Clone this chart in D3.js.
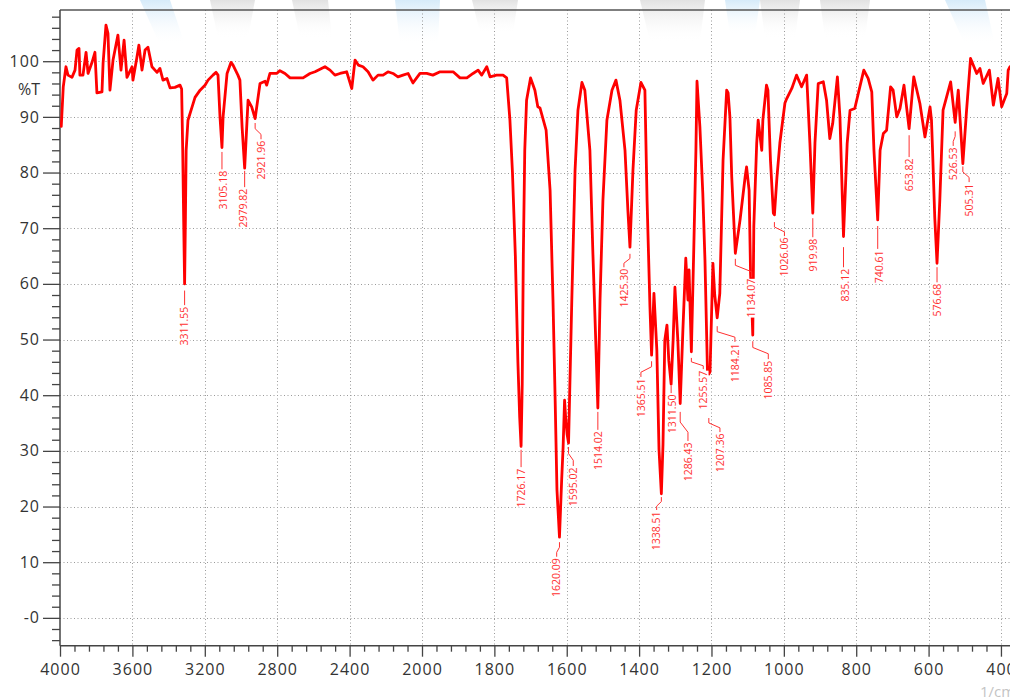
<!DOCTYPE html>
<html>
<head>
<meta charset="utf-8">
<script src="https://cdn.jsdelivr.net/npm/d3@7/dist/d3.min.js"></script>
<style>
  html, body { margin: 0; padding: 0; background: #fff; }
  svg { display: block; }
</style>
</head>
<body>
<svg id="chart" width="1010" height="699"></svg>
<script>
// ---------------- DATA ----------------
const wavenumbers = [
  3993,3982,3967,3956,3934,3917,3906,3895,3890,3873,3856,3845,3823,3807,3796,3768,3762,3746,3735,3724,
  3707,3680,3663,3646,3630,3602,3597,3575,3564,3547,3530,3514,3492,3464,3448,3431,3409,3392,3365,3337,
  3328,3322,3317,3311.55,3307,3303,3293,3271,3254,3226,3199,3182,3155,3138,3127,3116,3105.18,3099,3077,3055,
  3044,3017,3006,2994,2979.82,2961,2941,2921.96,2895,2867,2858,2840,2803,2785,2757,2729,2685,2657,2619,2591,
  2536,2508,2481,2453,2416,2388,2370,2352,2326,2298,2271,2243,2215,2188,2160,2133,2105,2077,2050,2011,
  1987,1970,1950,1914,1895,1876,1859,1845,1835,1821,1812,1794,1776,1766,1757,1750,1742,1735,1730,1726.17,
  1723,1720,1716,1711,1700,1688,1680,1674,1657,1646,1638,1632,1627,1620.09,1614,1610,1606,1603,1599,1595.02,
  1586,1577,1569,1558,1550,1536,1528,1519,1514.02,1508,1500,1489,1475,1464,1453,1439,1431,1425.30,1417,1408,
  1395,1384,1378,1370,1365.51,1359,1351,1345,1338.51,1334,1329,1323,1318,1311.50,1306,1301,1293,1286.43,1279,1271,
  1265,1262,1255.57,1249,1243,1240,1232,1224,1218,1211,1207.36,1204,1196,1191,1184.21,1177,1168,1158,1154,1149,
  1144,1134.07,1121,1107,1103,1096,1092,1088,1085.85,1083,1075,1071,1061,1058,1048,1044,1037,1029,1026.06,1019,
  1011,997,992,978,965,951,937,928,919.98,914,905,891,882,873,865,852,845,835.12,825,817,
  804,790,779,767,757,751,740.61,734,725,716,705,698,688,679,668,653.82,641,624,610,596,
  592,589,583,576.68,569,560,539,526.53,518,505.31,495,484,467,458,449,432,421,408,398,384,
  380,375
];
const transmittance = [
  88.3,95.4,99.0,97.5,97.1,98.4,102.0,102.3,97.5,97.5,101.6,97.8,99.8,101.6,94.3,94.5,99.6,106.5,105.0,94.8,
  100.2,104.7,98.4,103.8,97.1,99.0,96.6,100.7,102.9,98.4,102.0,102.5,99.0,98.0,98.7,96.6,96.9,95.2,95.3,95.7,
  95.0,84.0,72.0,60.0,72.0,84.0,89.4,91.7,93.5,94.8,95.7,96.6,97.5,98.0,97.5,90.0,84.5,90.0,97.8,99.8,
  99.3,97.5,96.6,88.2,80.8,93.0,91.8,89.7,96.0,96.4,95.7,97.8,97.8,98.3,97.8,97.0,97.0,97.0,97.8,98.1,
  99.0,98.4,97.5,97.8,98.1,95.1,100.2,99.3,99.0,98.1,96.6,97.5,97.5,98.1,97.8,97.2,97.5,97.8,96.1,97.8,
  97.8,97.5,98.1,98.1,97.0,97.0,97.8,98.4,97.5,99.0,97.2,97.5,97.5,97.0,89.4,80.0,65.0,46.0,36.0,30.8,
  42.0,65.0,84.0,93.0,97.0,94.8,91.8,91.6,87.6,76.8,57.1,39.1,23.0,14.5,24.8,30.7,39.1,36.0,33.0,31.4,
  57.1,80.4,91.2,96.2,94.8,84.0,66.1,48.1,37.7,57.1,75.0,89.4,94.8,96.6,93.0,84.0,73.2,66.6,80.4,91.2,
  96.2,94.8,75.0,55.8,47.2,58.3,48.1,30.2,22.3,31.1,49.9,52.6,46.3,42.0,49.9,59.4,49.9,38.5,51.7,64.6,
  57.1,62.5,47.8,66.1,84.0,96.4,88.2,76.3,64.3,44.0,43.8,44.2,63.7,58.0,53.9,58.3,82.2,94.8,94.3,89.9,
  79.2,65.5,71.5,79.2,81.0,76.8,61.9,55.0,50.8,70.3,85.3,89.4,84.0,89.4,95.7,94.8,82.2,72.7,72.4,79.2,
  85.3,92.5,93.3,95.1,97.5,95.4,97.5,85.3,72.7,85.3,96.0,96.3,93.0,86.1,88.8,97.2,90.0,68.5,85.2,91.2,
  91.5,95.4,98.4,96.9,94.5,84.0,71.5,84.0,87.0,87.6,95.4,94.8,90.0,91.5,95.7,87.9,97.2,92.4,86.4,91.8,
  89.4,84.0,72.0,63.7,75.0,91.2,96.3,89.0,94.8,81.6,91.2,100.5,97.8,98.7,96.0,98.4,92.1,96.9,91.8,94.2,
  98.4,99.0
];

// peak annotations: label text, peak wavenumber, leader start %T, label wavenumber, label top %T
const peakLabels    = ["3311.55","3105.18","2979.82","2921.96","1726.17","1620.09","1595.02","1514.02","1425.30","1365.51","1338.51","1311.50","1286.43","1255.57","1207.36","1184.21","1134.07","1085.85","1026.06","919.98","835.12","740.61","653.82","576.68","526.53","505.31"];
const peakWn        = [3311.55,3105.18,2979.82,2921.96,1726.17,1620.09,1595.02,1514.02,1425.30,1365.51,1338.51,1311.50,1286.43,1255.57,1207.36,1184.21,1134.07,1085.85,1026.06,919.98,835.12,740.61,653.82,576.68,526.53,505.31];
const leaderStartT  = [58.8,83.7,80.3,88.9,30.2,13.6,30.7,37.0,65.4,46.1,21.7,41.7,37.0,46.7,35.9,52.4,64.5,49.7,71.1,71.8,66.6,70.4,86.7,63.0,87.4,81.1];
const labelWn       = [3311.55,3099,2988,2889.5,1725,1627.8,1582,1513,1442,1395,1351.5,1309,1265,1222.7,1176.6,1135.2,1089,1043,998.4,919,831,737,653.6,576,532,488];
const labelTopT     = [56.0,80.4,77.2,85.8,26.9,10.8,27.1,33.6,62.8,43.1,19.2,40.2,31.6,44.5,33.2,49.4,61.0,46.3,68.4,68.2,62.8,66.1,82.6,60.1,84.6,78.1];

const xMajorTicks = [4000,3600,3200,2800,2400,2000,1800,1600,1400,1200,1000,800,600,400];
const yMajorTicks = [0,10,20,30,40,50,60,70,80,90,100];
const yTickText   = ["-0","10","20","30","40","50","60","70","80","90","100"];

// ---------------- LAYOUT ----------------
const L = 60, R = 1010, T = 10, B = 645.7;
const svg = d3.select("#chart");

const x = d3.scaleLinear().domain([4000, 2000, 375]).range([L, 422, R]);
const y = d3.scaleLinear().domain([-5, 109.2]).range([B, T]);

// watermark (faint)
const defs = svg.append("defs");
const gb = defs.append("linearGradient").attr("id","wmBlue").attr("x1",0).attr("y1",0).attr("x2",0).attr("y2",1);
gb.append("stop").attr("offset","0%").attr("stop-color","#cfe7f8").attr("stop-opacity",0.85);
gb.append("stop").attr("offset","100%").attr("stop-color","#ffffff").attr("stop-opacity",0);
const gg = defs.append("linearGradient").attr("id","wmGray").attr("x1",0).attr("y1",0).attr("x2",0).attr("y2",1);
gg.append("stop").attr("offset","0%").attr("stop-color","#d8d8d8").attr("stop-opacity",0.75);
gg.append("stop").attr("offset","100%").attr("stop-color","#ffffff").attr("stop-opacity",0);
defs.append("clipPath").attr("id", "plotClip")
  .append("rect").attr("x", L).attr("y", T).attr("width", R - L).attr("height", B - T);

const wm = svg.append("g");
const wmShapes = [
  ["wmBlue","M140,0 L170,0 L185,45 L160,45 Z"],
  ["wmGray","M210,0 L255,0 L248,38 L218,38 Z"],
  ["wmGray","M292,0 L328,0 L332,38 L300,38 Z"],
  ["wmBlue","M395,0 L440,0 L438,45 L400,45 Z"],
  ["wmGray","M472,0 L518,0 L513,33 L480,33 Z"],
  ["wmGray","M640,0 L705,0 L700,42 L650,42 Z"],
  ["wmBlue","M725,0 L760,0 L755,35 L730,35 Z"],
  ["wmGray","M760,0 L800,0 L795,38 L765,38 Z"],
  ["wmGray","M820,0 L870,0 L865,38 L825,38 Z"],
  ["wmBlue","M945,0 L985,0 L995,45 L965,45 Z"]
];
wm.selectAll("path").data(wmShapes).enter().append("path")
  .attr("d", d => d[1]).attr("fill", d => "url(#" + d[0] + ")");

// grid
const grid = svg.append("g").attr("stroke","#9a9a9a").attr("stroke-width",1).attr("stroke-dasharray","1,2.5");
grid.selectAll("line.v").data(xMajorTicks.filter(d => d !== 4000)).enter().append("line")
  .attr("x1", d => Math.round(x(d)) + 0.5).attr("x2", d => Math.round(x(d)) + 0.5)
  .attr("y1", T).attr("y2", B);
grid.selectAll("line.h").data(yMajorTicks).enter().append("line")
  .attr("x1", L).attr("x2", R)
  .attr("y1", d => Math.round(y(d)) + 0.5).attr("y2", d => Math.round(y(d)) + 0.5);

// top border
svg.append("line").attr("x1", L).attr("x2", R).attr("y1", T).attr("y2", T)
  .attr("stroke", "#555").attr("stroke-width", 1.5);

// axes
const tickFont = g => g.selectAll("text")
  .attr("font-family", "'Open Sans', 'Noto Sans', sans-serif")
  .attr("font-size", 16).attr("fill", "#333").attr("letter-spacing", "1px");

const xMinor = [];
for (let v = 4000; v > 2000; v -= 80) if (!xMajorTicks.includes(v)) xMinor.push(v);
for (let v = 2000; v >= 400; v -= 40) if (!xMajorTicks.includes(v)) xMinor.push(v);
const yMinor = [];
for (let v = -4; v <= 108; v += 2) if (!yMajorTicks.includes(v)) yMinor.push(v);

const gxMinor = svg.append("g").attr("transform", `translate(0,${B})`)
  .call(d3.axisBottom(x).tickValues(xMinor).tickSize(6).tickFormat(""));
const gx = svg.append("g").attr("transform", `translate(0,${B})`)
  .call(d3.axisBottom(x).tickValues(xMajorTicks).tickSize(11).tickPadding(7).tickFormat(d3.format("d")))
  .call(tickFont);
const gyMinor = svg.append("g").attr("transform", `translate(${L},0)`)
  .call(d3.axisLeft(y).tickValues(yMinor).tickSize(8).tickFormat(""));
const gy = svg.append("g").attr("transform", `translate(${L},0)`)
  .call(d3.axisLeft(y).tickValues(yMajorTicks).tickSize(17).tickPadding(3).tickFormat((d, i) => yTickText[i]))
  .call(tickFont);

[gxMinor, gx, gyMinor, gy].forEach(g => {
  g.selectAll(".domain").remove();
  g.selectAll(".tick line").attr("stroke", "#444").attr("stroke-width", 1.3);
});
svg.append("line").attr("x1", L).attr("x2", R).attr("y1", B).attr("y2", B)
  .attr("stroke", "#444").attr("stroke-width", 1.5);
svg.append("line").attr("x1", L).attr("x2", L).attr("y1", T).attr("y2", B)
  .attr("stroke", "#444").attr("stroke-width", 1.5);

// %T label
svg.append("text").attr("x", 40).attr("y", y(95)).attr("dy", "0.36em")
  .attr("text-anchor", "end")
  .attr("font-family", "'Open Sans', 'Noto Sans', sans-serif").attr("font-size", 16)
  .attr("fill", "#333").text("%T");

// unit label (partly outside the frame, as in the original)
svg.append("text").attr("x", 980).attr("y", 697)
  .attr("font-family", "'Open Sans', 'Noto Sans', sans-serif").attr("font-size", 15)
  .attr("fill", "#c4c4c4").text("1/cm");

// spectrum
const spectrum = wavenumbers.map((w, i) => [w, transmittance[i]]);
svg.append("path")
  .datum(spectrum)
  .attr("clip-path", "url(#plotClip)")
  .attr("fill", "none").attr("stroke", "#ff0000").attr("stroke-width", 2.8)
  .attr("stroke-linejoin", "round").attr("stroke-linecap", "round")
  .attr("d", d3.line().x(d => x(d[0])).y(d => y(d[1])));

// peak labels and leaders (labels sit on a white plate)
const ann = svg.append("g");
peakLabels.forEach((txt, i) => {
  const x0 = x(peakWn[i]), y0 = y(leaderStartT[i]);
  const x3 = x(labelWn[i]), y3 = y(labelTopT[i]) - 1;
  const dy = y3 - y0;
  let pts;
  if (Math.abs(x3 - x0) < 1.5) {
    pts = [[x0, y0], [x0, y3]];
  } else {
    pts = [[x0, y0], [x0, y0 + dy * 0.35], [x3, y3 - dy * 0.3], [x3, y3]];
  }
  ann.append("path").attr("d", d3.line()(pts))
    .attr("fill", "none").attr("stroke", "#ff3030").attr("stroke-width", 1);
  const g = ann.append("g").attr("transform", `translate(${x3},${y3 + 1.5}) rotate(-90)`);
  const plate = g.append("rect").attr("fill", "#fff");
  const t = g.append("text")
    .attr("dy", "0.36em").attr("text-anchor", "end")
    .attr("font-family", "'Open Sans', 'Noto Sans', sans-serif").attr("font-size", 10.5)
    .attr("fill", "#ff3030").text(txt);
  const bb = t.node().getBBox();
  plate.attr("x", bb.x).attr("y", bb.y + 1.5).attr("width", bb.width).attr("height", bb.height - 3);
});
</script>
</body>
</html>
